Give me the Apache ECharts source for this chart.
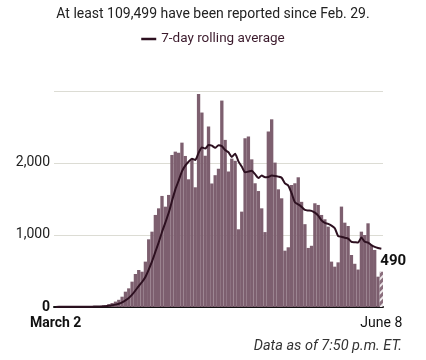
<!DOCTYPE html>
<html>
<head>
<meta charset="utf-8">
<script src="https://cdn.jsdelivr.net/npm/echarts@6/dist/echarts.min.js"></script>
<style>
html,body{margin:0;padding:0;background:#fff;}
#chart{width:426px;height:360px;}
</style>
</head>
<body>
<div id="chart"></div>
<script>
// Days from March 2 to June 8 (99 days)
const startDate = new Date(2020, 2, 2);
const monthNames = ['January','February','March','April','May','June'];
const categories = [];
for (let i = 0; i < 99; i++) {
  const d = new Date(startDate.getTime() + i * 86400000);
  categories.push(monthNames[d.getMonth()] + ' ' + d.getDate());
}

// Daily reported deaths
const dailyDeaths = [
  1,2,2,3,2,3,4,4,5,6,6,8,10,
  12,18,24,40,55,75,100,143,
  213,259,352,458,514,490,630,
  940,1046,1278,1370,1542,1393,1556,2111,2157,2143,2282,2097,1773,2042,1662,2958,
  2700,2100,2505,1715,1830,1920,2866,
  2320,1880,2060,2030,1079,1324,2343,
  2366,2050,1718,1610,1370,1040,2435,
  2606,2005,1634,1509,782,829,1694,
  1718,1801,1460,1150,820,850,1440,
  1417,1278,1218,1116,630,560,620,
  1394,1171,1125,722,600,520,1046,
  1000,1162,861,792,421,490
];

// 7-day rolling average line
const rollingAvg = [
  1,2,2,2,2,2,2,3,3,4,
  4,5,6,7,9,12,17,24,33,46,
  65,93,126,171,229,291,347,417,520,633,
  765,895,1042,1171,1304,1471,1630,1753,1883,1963,
  2017,2060,2040,2140,2216,2200,2249,2240,2210,2245,
  2234,2179,2148,2084,2129,2022,1950,1870,1880,1893,
  1844,1790,1826,1800,1805,1825,1820,1810,1795,1716,
  1686,1580,1453,1424,1390,1348,1340,1335,1310,1270,
  1202,1168,1155,1130,1094,985,975,960,950,905,
  900,895,965,905,895,860,835,820,810
];

const yTicks = [0, 1000, 2000];
const titleText = 'At least 109,499 have been reported since Feb. 29.';
const legendText = '7-day rolling average';
const noteText = 'Data as of 7:50 p.m. ET.';
const firstLabel = 'March 2';
const lastLabel = 'June 8';

const FONT = 'Roboto, "Noto Sans", sans-serif';
const BAR = '#7d5f6f';
const LINE = '#2d1020';

const lastIdx = dailyDeaths.length - 1;
const barData = dailyDeaths.map((v, i) => {
  if (i !== lastIdx) return v;
  return {
    value: v,
    itemStyle: {
      color: '#8a6d7c',
      decal: {
        symbol: 'rect',
        symbolSize: 1,
        dashArrayX: [1, 0],
        dashArrayY: [1.5, 2.5],
        rotation: -Math.PI / 4,
        color: 'rgba(255,255,255,0.85)'
      }
    },
    label: {
      show: true,
      position: 'top',
      align: 'left',
      distance: 3,
      offset: [-1, 0],
      formatter: String(v),
      fontFamily: FONT,
      fontWeight: 'bold',
      fontSize: 15,
      color: '#111'
    }
  };
});

const chart = echarts.init(document.getElementById('chart'), null, {renderer: 'canvas'});
chart.setOption({
  animation: false,
  backgroundColor: '#fff',
  title: {
    text: titleText,
    left: 'center',
    top: 2,
    textStyle: {fontFamily: FONT, fontSize: 14, fontWeight: 'normal', color: '#222'}
  },
  legend: {
    data: [{name: legendText, icon: 'rect'}],
    top: 27,
    left: 'center',
    itemWidth: 15,
    itemHeight: 2.5,
    itemGap: 6,
    textStyle: {fontFamily: FONT, fontSize: 13.5, color: '#3b1a2c'}
  },
  grid: {left: 54, right: 43, top: 91, bottom: 53, containLabel: false},
  xAxis: {
    type: 'category',
    data: categories,
    boundaryGap: true,
    axisLine: {show: true, lineStyle: {color: '#111', width: 2}},
    axisTick: {show: false},
    axisLabel: {
      interval: (i) => i === 0 || i === lastIdx,
      margin: 9,
      fontFamily: FONT,
      fontSize: 14,
      color: '#111',
      formatter: (val, i) => i === 0 ? '{b|' + firstLabel + '}' : lastLabel,
      rich: {b: {fontFamily: FONT, fontSize: 14, fontWeight: 'bold', color: '#111'}}
    },
    splitLine: {show: false}
  },
  yAxis: {
    type: 'value',
    min: 0,
    max: 2999,
    interval: 1000,
    axisLine: {show: false},
    axisTick: {show: false},
    splitLine: {show: true, lineStyle: {color: '#dcdcd4', width: 1}},
    axisLabel: {
      margin: 4,
      fontFamily: FONT,
      fontSize: 14,
      color: '#222',
      formatter: (v) => {
        if (yTicks.indexOf(v) < 0) return '';
        return v === 0 ? '{b|0}' : v.toLocaleString('en-US');
      },
      rich: {b: {fontFamily: FONT, fontSize: 14, fontWeight: 'bold', color: '#111'}}
    }
  },
  series: [
    {
      name: 'Daily deaths',
      type: 'bar',
      data: barData,
      barCategoryGap: '0%',
      itemStyle: {color: BAR},
      z: 2
    },
    {
      name: legendText,
      type: 'line',
      data: rollingAvg,
      smooth: 0.2,
      showSymbol: false,
      symbol: 'none',
      lineStyle: {color: LINE, width: 2},
      itemStyle: {color: LINE},
      z: 3
    }
  ],
  graphic: [
    {
      type: 'text',
      right: 24,
      top: 339,
      style: {
        text: noteText,
        fontFamily: FONT,
        fontSize: 14.5,
        fontStyle: 'italic',
        fill: '#333'
      }
    }
  ]
});
</script>
</body>
</html>
